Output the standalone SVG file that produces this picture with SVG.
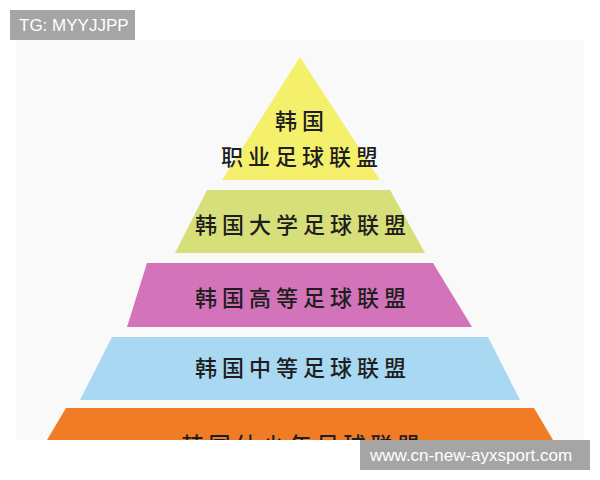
<svg xmlns="http://www.w3.org/2000/svg" width="600" height="480" viewBox="0 0 600 480">
<defs>
<style>
.lbl{font-family:"Noto Sans CJK SC","Noto Sans",sans-serif;font-size:22px;font-weight:500;fill:#1e1e1e;text-anchor:middle;letter-spacing:5px}
.tag{font-family:"Liberation Sans","DejaVu Sans",sans-serif;font-size:17px;fill:#fff}
.tagbox{fill:#a5a5a5}
</style>
<clipPath id="photo"><rect x="16" y="40" width="568" height="400"/></clipPath>
</defs>
<rect x="0" y="0" width="600" height="480" fill="#fff"/>
<rect x="16" y="40" width="568" height="400" fill="#f9f9f9"/>
<g clip-path="url(#photo)">
<g id="tier1">
<polygon points="300,57 380,180 222,180" fill="#f5f06c"/>
<text class="lbl" x="302" y="129">韩国</text>
<text class="lbl" x="302" y="165">职业足球联盟</text>
</g>
<g id="tier2">
<polygon points="207,190 390,190 425,253 175,253" fill="#d6df7a"/>
<text class="lbl" x="303" y="233">韩国大学足球联盟</text>
</g>
<g id="tier3">
<polygon points="147,263 433,263 472,327 127,327" fill="#d373b9"/>
<text class="lbl" x="303" y="306">韩国高等足球联盟</text>
</g>
<g id="tier4">
<polygon points="112,337 488,337 520,400 80,400" fill="#a8d8f2"/>
<text class="lbl" x="303" y="376">韩国中等足球联盟</text>
</g>
<g id="tier5">
<polygon points="66,408 534,408 556,445 44,445" fill="#f07d25"/>
<text class="lbl" x="303" y="453">韩国幼少年足球联盟</text>
</g>
</g>
<g id="tag-top">
<rect class="tagbox" x="10" y="10" width="125" height="30"/>
<text class="tag" x="19" y="31">TG: MYYJJPP</text>
</g>
<g id="tag-bottom">
<rect class="tagbox" x="360" y="440" width="230" height="30"/>
<text class="tag" x="370" y="461">www.cn-new-ayxsport.com</text>
</g>
</svg>
